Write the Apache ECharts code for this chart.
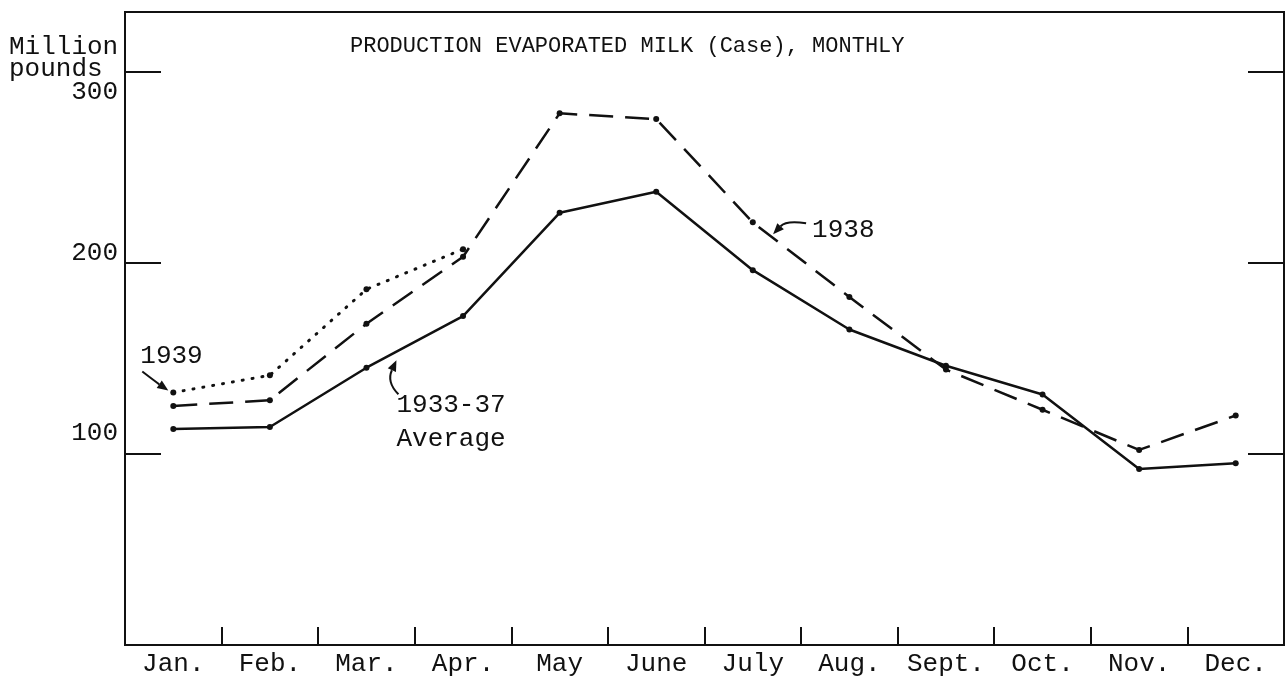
<!DOCTYPE html>
<html>
<head>
<meta charset="utf-8">
<title>Production evaporated milk (case), monthly</title>
<script src="https://cdn.jsdelivr.net/npm/echarts@6/dist/echarts.min.js"></script>
<style>
  html, body { margin: 0; padding: 0; background: #fff; }
  #chart { width: 1287px; height: 682px; }
</style>
</head>
<body>
<div id="chart"></div>
<script>
// values, million pounds
const months = ['Jan.', 'Feb.', 'Mar.', 'Apr.', 'May', 'June', 'July', 'Aug.', 'Sept.', 'Oct.', 'Nov.', 'Dec.'];
const avg1933to37 = [113, 114, 145, 172, 226, 237, 196, 165, 146, 131, 92, 95];
const prod1938 = [125, 128, 168, 203, 278, 275, 221, 182, 144, 123, 102, 120];
const prod1939 = [132, 141, 186, 207];
const yTicks = [100, 200, 300];
const yMax = 331;

const ink = '#111';
const mono = '"Liberation Mono", "DejaVu Sans Mono", monospace';

// y labels sit at odd heights next to their ticks in the original
const yLabelStyle = {
  t300: { fontFamily: mono, fontSize: 26, color: ink, padding: [42, 0, 0, 0] },
  t200: { fontFamily: mono, fontSize: 26, color: ink, padding: [0, 0, 18, 0] },
  t100: { fontFamily: mono, fontSize: 26, color: ink, padding: [0, 0, 42, 0] }
};

const axisLine = { show: true, lineStyle: { color: ink, width: 2 } };
const yTick = { show: true, inside: true, length: 36, lineStyle: { color: ink, width: 2 } };

const options = {
  animation: false,
  backgroundColor: '#fff',
  title: [
    {
      text: 'PRODUCTION EVAPORATED MILK (Case), MONTHLY',
      left: 345,
      top: 30,
      textStyle: { fontFamily: mono, fontSize: 22, fontWeight: 'normal', color: ink }
    },
    {
      text: 'Million\npounds',
      left: 4,
      top: 31,
      textStyle: { fontFamily: mono, fontSize: 26, fontWeight: 'normal', color: ink, lineHeight: 22 }
    }
  ],
  grid: {
    left: 125,
    right: 3,
    top: 12,
    bottom: 37,
    show: true,
    borderColor: ink,
    borderWidth: 2
  },
  xAxis: {
    type: 'category',
    data: months,
    boundaryGap: true,
    axisLine: axisLine,
    axisTick: { show: true, interval: 0, inside: true, length: 18, lineStyle: { color: ink, width: 2 } },
    axisLabel: { interval: 0, margin: 6, fontFamily: mono, fontSize: 26, color: ink },
    splitLine: { show: false }
  },
  yAxis: [
    {
      type: 'value',
      min: 0,
      max: yMax,
      interval: 100,
      axisLine: axisLine,
      axisTick: yTick,
      axisLabel: {
        margin: 7,
        showMinLabel: false,
        showMaxLabel: false,
        formatter: v => (yTicks.includes(v) ? '{t' + v + '|' + v + '}' : ''),
        rich: yLabelStyle
      },
      splitLine: { show: false }
    },
    {
      type: 'value',
      position: 'right',
      min: 0,
      max: yMax,
      interval: 100,
      axisLine: axisLine,
      axisTick: yTick,
      axisLabel: { show: false },
      splitLine: { show: false }
    }
  ],
  series: [
    {
      name: '1933-37 Average',
      type: 'line',
      data: avg1933to37,
      symbol: 'circle',
      symbolSize: 6,
      itemStyle: { color: ink },
      lineStyle: { color: ink, width: 2.5 }
    },
    {
      name: '1938',
      type: 'line',
      data: prod1938,
      symbol: 'circle',
      symbolSize: 6,
      itemStyle: { color: ink },
      lineStyle: { color: ink, width: 2.5, type: [24, 12] }
    },
    {
      name: '1939',
      type: 'line',
      data: prod1939,
      symbol: 'circle',
      symbolSize: 6,
      itemStyle: { color: ink },
      lineStyle: { color: ink, width: 3, type: [1, 9], cap: 'round' }
    }
  ]
};

const chart = echarts.init(document.getElementById('chart'));
chart.setOption(options);

// hand-lettered notes, placed next to the lines they point at
const px = (i, v) => chart.convertToPixel({ gridIndex: 0 }, [i, v]);
const lerp = (a, b, t) => [a[0] + (b[0] - a[0]) * t, a[1] + (b[1] - a[1]) * t];
const add = (p, dx, dy) => [p[0] + dx, p[1] + dy];

function arrow(from, ctrl, to) {
  const dx = to[0] - ctrl[0];
  const dy = to[1] - ctrl[1];
  const len = Math.hypot(dx, dy) || 1;
  const ux = dx / len;
  const uy = dy / len;
  const bx = to[0] - ux * 11;
  const by = to[1] - uy * 11;
  return [
    {
      type: 'bezierCurve',
      shape: { x1: from[0], y1: from[1], x2: bx, y2: by, cpx1: ctrl[0], cpy1: ctrl[1] },
      style: { stroke: ink, lineWidth: 2, fill: 'none' }
    },
    {
      type: 'polygon',
      shape: { points: [to, [bx - uy * 4.5, by + ux * 4.5], [bx + uy * 4.5, by - ux * 4.5]] },
      style: { fill: ink }
    }
  ];
}

function note(text, x, y, lineHeight) {
  return {
    type: 'text',
    x: x,
    y: y,
    style: {
      text: text,
      fill: ink,
      font: '26px ' + mono,
      lineHeight: lineHeight || 30,
      verticalAlign: 'top'
    }
  };
}

const a = px(0, prod1939[0]);
const b = lerp(px(2, avg1933to37[2]), px(3, avg1933to37[3]), 0.3);
const c = lerp(px(6, prod1938[6]), px(7, prod1938[7]), 0.2);

chart.setOption({
  graphic: [
    note('1939', a[0] - 33, a[1] - 51),
    ...arrow(add(a, -31, -21), add(a, -18, -11), add(a, -5, -2)),
    note('1933-37\nAverage', b[0] + 1, b[1] + 36, 34),
    ...arrow(add(b, 3, 42), add(b, -9, 30), add(b, 1, 8)),
    note('1938', c[0] + 40, c[1] - 22),
    ...arrow(add(c, 34, -14), add(c, 14, -17), add(c, 1, -3))
  ]
});

window.addEventListener('resize', () => {
  chart.resize();
});
</script>
</body>
</html>
